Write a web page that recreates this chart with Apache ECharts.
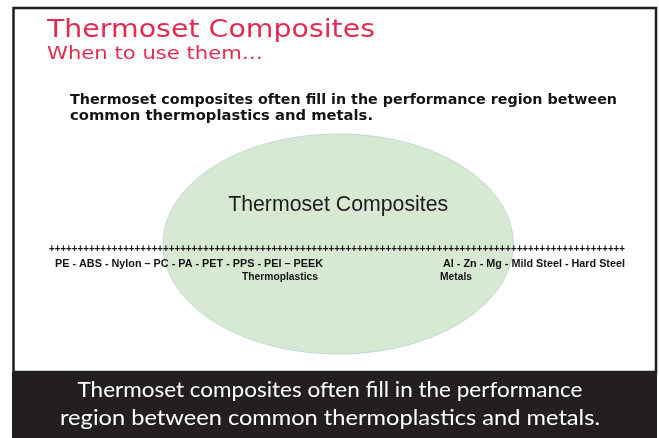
<!DOCTYPE html>
<html>
<head>
<meta charset="utf-8">
<title>Thermoset Composites</title>
<script src="https://cdn.jsdelivr.net/npm/echarts@6/dist/echarts.min.js"></script>
<style>
html, body { margin: 0; padding: 0; background: #fff; }
#main { width: 659px; height: 438px; }
</style>
</head>
<body>
<div id="main"></div>
<script>
// performance scale runs 0..100 along the +++ line
const regionNames = ['Thermoset Composites'];
const regionFrom = [19.8];
const regionTo = [80.6];
const regionLow = [-1];
const regionHigh = [1];

const plasticsLine = 'PE - ABS - Nylon – PC - PA - PET - PPS - PEI – PEEK';
const metalsLine = 'Al - Zn - Mg - Mild Steel - Hard Steel';
const groupNames = ['Thermoplastics', 'Metals'];
const plusCount = 101;

const titleLines = ['Thermoset Composites', 'When to use them…'];
const leadLines = [
    'Thermoset composites often fill in the performance region between',
    'common thermoplastics and metals.',
];
const captionLines = [
    'Thermoset composites often fill in the performance',
    'region between common thermoplastics and metals.',
];

const RED = '#e32b52';
const INK = '#141414';
const DARK = '#231f20';

const measureCtx = document.createElement('canvas').getContext('2d');
function stretchTo(text, font, width) {
    measureCtx.font = font;
    return width / measureCtx.measureText(text).width;
}

function slideText(text, x, y, font, color, width, align) {
    return {
        type: 'text',
        x: x,
        y: y,
        z: 20,
        scaleX: stretchTo(text, font, width),
        style: {
            text: text,
            font: font,
            fill: color,
            align: align || 'left',
            verticalAlign: 'middle',
        },
    };
}

const chart = echarts.init(document.getElementById('main'), null, { renderer: 'canvas' });

const option = {
    backgroundColor: '#ffffff',
    animation: false,
    grid: { left: 49, width: 576, top: 134, height: 220 },
    xAxis: { type: 'value', min: 0, max: 100, show: false },
    yAxis: { type: 'value', min: -1, max: 1, show: false },
    graphic: [
        // slide frame + caption bar
        { type: 'rect', z: 30, shape: { x: 13.5, y: 8, width: 642.5, height: 364 }, style: { fill: 'none', stroke: DARK, lineWidth: 2.5 } },
        { type: 'rect', z: 30, shape: { x: 12, y: 372, width: 645, height: 66 }, style: { fill: DARK } },

        slideText(titleLines[0], 47, 31, '24px "DejaVu Sans"', RED, 328),
        slideText(titleLines[1], 47, 54, '18px "DejaVu Sans"', RED, 216),
        slideText(leadLines[0], 70, 100, 'bold 14px "DejaVu Sans"', INK, 547),
        slideText(leadLines[1], 70, 116, 'bold 14px "DejaVu Sans"', INK, 303),

        slideText('+'.repeat(plusCount), 49, 249, 'bold 10.5px "Liberation Sans"', INK, 576),
        slideText(plasticsLine, 55, 264, 'bold 11px "Liberation Sans"', INK, 268),
        slideText(groupNames[0], 242, 277, 'bold 10.5px "Liberation Sans"', INK, 76),
        slideText(metalsLine, 443, 264, 'bold 11px "Liberation Sans"', INK, 182),
        slideText(groupNames[1], 440, 277, 'bold 10.5px "Liberation Sans"', INK, 32),

        Object.assign(slideText(captionLines[0], 330, 390, '22px Lato', '#ffffff', 505, 'center'), { z: 40 }),
        Object.assign(slideText(captionLines[1], 330, 418, '22px Lato', '#ffffff', 540, 'center'), { z: 40 }),
    ],
    series: [
        {
            type: 'custom',
            coordinateSystem: 'cartesian2d',
            z: 2,
            data: regionNames.map((name, i) => [regionFrom[i], regionTo[i], regionLow[i], regionHigh[i]]),
            renderItem(params, api) {
                const a = api.coord([api.value(0), api.value(2)]);
                const b = api.coord([api.value(1), api.value(3)]);
                const cx = (a[0] + b[0]) / 2;
                const cy = (a[1] + b[1]) / 2;
                const rx = Math.abs(b[0] - a[0]) / 2;
                const ry = Math.abs(b[1] - a[1]) / 2;
                const label = regionNames[params.dataIndex];
                const font = '22px "Liberation Sans"';
                return {
                    type: 'group',
                    children: [
                        {
                            type: 'ellipse',
                            shape: { cx: cx, cy: cy, rx: rx, ry: ry },
                            style: { fill: '#d7e9d2', stroke: '#bcdccf', lineWidth: 1 },
                        },
                        {
                            type: 'text',
                            x: cx,
                            y: cy - ry * 0.355,
                            scaleX: stretchTo(label, font, 220),
                            style: { text: label, font: font, fill: '#1c1c1c', align: 'center', verticalAlign: 'middle' },
                        },
                    ],
                };
            },
        },
    ],
};

chart.setOption(option);
</script>
</body>
</html>
